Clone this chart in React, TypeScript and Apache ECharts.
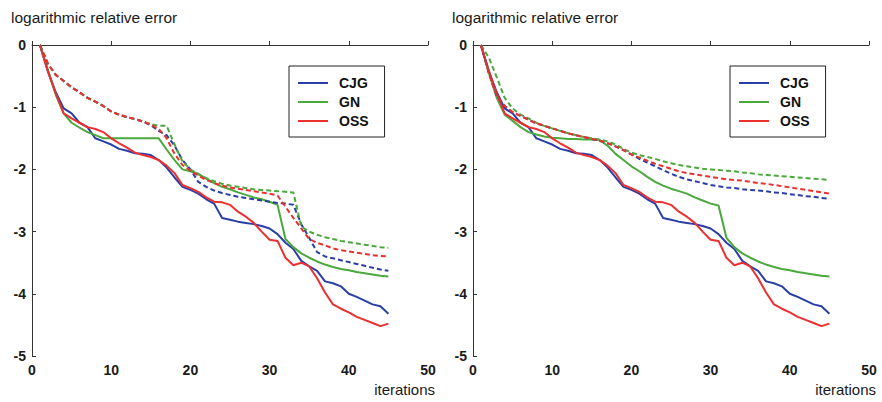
import React, { useEffect, useRef } from "react";
import * as echarts from "echarts";

// iteration index shared by every curve
const iterations = [
  1, 2, 3, 4, 5, 6, 7, 8, 9, 10, 11, 12, 13, 14, 15, 16, 17, 18, 19, 20, 21, 22, 23,
  24, 25, 26, 27, 28, 29, 30, 31, 32, 33, 34, 35, 36, 37, 38, 39, 40, 41, 42, 43, 44, 45,
];

// solid curves (CJG and OSS solid are identical in both panels)
const cjgSolid = [
  0, -0.42, -0.76, -1.02, -1.1, -1.25, -1.32, -1.5, -1.55, -1.6, -1.67, -1.7, -1.74, -1.75,
  -1.77, -1.85, -1.97, -2.13, -2.28, -2.33, -2.39, -2.48, -2.55, -2.78, -2.81, -2.84, -2.86,
  -2.88, -2.91, -2.95, -3.04, -3.18, -3.28, -3.47, -3.56, -3.63, -3.8, -3.83, -3.88, -4.0,
  -4.05, -4.11, -4.17, -4.2, -4.32,
];
const ossSolid = [
  0, -0.42, -0.78, -1.1, -1.18, -1.25, -1.32, -1.35, -1.4, -1.5, -1.58, -1.65, -1.73, -1.77,
  -1.8, -1.85, -1.94, -2.06, -2.25, -2.3, -2.36, -2.45, -2.52, -2.53, -2.57, -2.68, -2.76,
  -2.86, -3.0, -3.13, -3.15, -3.42, -3.54, -3.5, -3.56, -3.75, -3.98, -4.17, -4.24, -4.3,
  -4.37, -4.42, -4.47, -4.52, -4.48,
];
const gnSolidLeft = [
  0, -0.4, -0.8, -1.1, -1.25, -1.33, -1.4, -1.45, -1.5, -1.5, -1.5, -1.5, -1.5, -1.5, -1.5,
  -1.5, -1.68, -1.85, -2.0, -2.03, -2.07, -2.15, -2.22, -2.28, -2.32, -2.37, -2.41, -2.45,
  -2.48, -2.52, -2.57, -3.12, -3.25, -3.35, -3.42, -3.48, -3.53, -3.57, -3.6, -3.62, -3.65,
  -3.67, -3.69, -3.71, -3.72,
];
const gnSolidRight = [
  0, -0.45, -0.85, -1.12, -1.22, -1.32, -1.4, -1.44, -1.47, -1.49, -1.5, -1.51, -1.51, -1.52,
  -1.52, -1.53, -1.62, -1.75, -1.85, -1.95, -2.03, -2.12, -2.2, -2.26, -2.31, -2.35, -2.39,
  -2.45, -2.5, -2.55, -2.58, -3.1, -3.25, -3.35, -3.42, -3.48, -3.53, -3.57, -3.6, -3.62,
  -3.65, -3.67, -3.69, -3.71, -3.72,
];

// dashed curves, left panel
const cjgDashLeft = [
  0, -0.3, -0.48, -0.58, -0.68, -0.76, -0.85, -0.91, -0.98, -1.07, -1.12, -1.16, -1.19,
  -1.23, -1.29, -1.38, -1.45, -1.62, -1.85, -2.0, -2.2, -2.28, -2.34, -2.38, -2.41, -2.44,
  -2.46, -2.48, -2.5, -2.52, -2.54, -2.55, -2.57, -2.88, -3.1, -3.33, -3.4, -3.43, -3.46,
  -3.49, -3.52, -3.55, -3.58, -3.61, -3.63,
];
const gnDashLeft = [
  0, -0.3, -0.48, -0.58, -0.68, -0.76, -0.85, -0.91, -0.98, -1.07, -1.12, -1.16, -1.19,
  -1.23, -1.27, -1.3, -1.3, -1.6, -1.87, -2.0, -2.08, -2.14, -2.19, -2.23, -2.26, -2.28,
  -2.3, -2.32, -2.33, -2.34, -2.35, -2.36, -2.37, -2.92, -3.0, -3.05, -3.09, -3.12, -3.15,
  -3.17, -3.19, -3.21, -3.23, -3.25, -3.26,
];
const ossDashLeft = [
  0, -0.3, -0.48, -0.58, -0.68, -0.76, -0.85, -0.91, -0.98, -1.07, -1.12, -1.16, -1.19,
  -1.23, -1.28, -1.35, -1.5, -1.75, -1.93, -2.02, -2.1, -2.17, -2.22, -2.26, -2.29, -2.31,
  -2.33, -2.35, -2.37, -2.39, -2.42, -2.6, -2.78, -2.95, -3.12, -3.18, -3.22, -3.27, -3.3,
  -3.32, -3.34, -3.36, -3.38, -3.39, -3.4,
];

// dashed curves, right panel
const cjgDashRight = [
  0, -0.45, -0.82, -0.98, -1.08, -1.14, -1.2, -1.26, -1.3, -1.34, -1.38, -1.42, -1.45,
  -1.48, -1.51, -1.54, -1.58, -1.63, -1.69, -1.76, -1.83, -1.89, -1.95, -2.01, -2.07,
  -2.12, -2.16, -2.19, -2.22, -2.25, -2.27, -2.29, -2.3, -2.32, -2.33, -2.34, -2.35, -2.37,
  -2.38, -2.4, -2.41, -2.43, -2.44, -2.46, -2.47,
];
const gnDashRight = [
  0, -0.2, -0.52, -0.85, -1.02, -1.12, -1.18, -1.25, -1.3, -1.34, -1.38, -1.42, -1.45,
  -1.48, -1.5, -1.52, -1.55, -1.6, -1.67, -1.73, -1.77, -1.8, -1.83, -1.87, -1.9, -1.93,
  -1.95, -1.97, -1.99, -2.0, -2.01, -2.02, -2.03, -2.05, -2.06, -2.08, -2.09, -2.1, -2.11,
  -2.12, -2.13, -2.14, -2.15, -2.16, -2.17,
];
const ossDashRight = [
  0, -0.45, -0.82, -0.98, -1.08, -1.14, -1.2, -1.26, -1.3, -1.34, -1.38, -1.42, -1.45,
  -1.48, -1.51, -1.54, -1.58, -1.63, -1.69, -1.76, -1.81, -1.86, -1.91, -1.95, -1.99,
  -2.03, -2.06, -2.08, -2.1, -2.12, -2.14, -2.16, -2.17, -2.18, -2.2, -2.22, -2.23, -2.25,
  -2.27, -2.29, -2.31, -2.33, -2.35, -2.37, -2.39,
];

const methods = ["CJG", "GN", "OSS"];
const xTicks = [0, 10, 20, 30, 40, 50];
const yTicks = [0, -1, -2, -3, -4, -5];

const COLORS: Record<string, string> = {
  CJG: "#2a3fa6",
  GN: "#4aa83c",
  OSS: "#ec2f2f",
};
const FONT = "'Liberation Sans', Arial, Helvetica, sans-serif";

const pairs = (vals: number[]) => iterations.map((it, i) => [it, vals[i]]);

function curve(name: string, method: string, vals: number[], panel: number, dashed: boolean) {
  return {
    name,
    type: "line",
    xAxisIndex: panel,
    yAxisIndex: panel,
    data: pairs(vals),
    symbol: "none",
    showSymbol: false,
    silent: true,
    color: COLORS[method],
    lineStyle: {
      color: COLORS[method],
      width: 2,
      type: dashed ? [5, 3] : "solid",
    },
  };
}

function xAxis(panel: number) {
  return {
    type: "value",
    gridIndex: panel,
    min: xTicks[0],
    max: xTicks[xTicks.length - 1],
    interval: 10,
    axisLine: { show: true, lineStyle: { color: "#333", width: 1 } },
    axisTick: { show: true, inside: true, length: 4, lineStyle: { color: "#333" } },
    axisLabel: {
      margin: 7,
      color: "#1a1a1a",
      fontSize: 14,
      fontWeight: "bold",
      fontFamily: FONT,
    },
    splitLine: { show: false },
  };
}

function yAxis(panel: number) {
  return {
    type: "value",
    gridIndex: panel,
    min: yTicks[yTicks.length - 1],
    max: yTicks[0],
    interval: 1,
    axisLine: { show: true, lineStyle: { color: "#333", width: 1 } },
    axisTick: { show: true, inside: true, length: 4, lineStyle: { color: "#333" } },
    axisLabel: {
      margin: 6,
      color: "#1a1a1a",
      fontSize: 14,
      fontWeight: "bold",
      fontFamily: FONT,
    },
    splitLine: { show: false },
  };
}

function legend(left: number) {
  return {
    left,
    top: 66,
    orient: "vertical",
    icon: "rect",
    itemWidth: 30,
    itemHeight: 2,
    itemGap: 5,
    borderColor: "#222",
    borderWidth: 1,
    padding: [10, 16, 9, 9],
    selectedMode: false,
    data: methods,
    textStyle: {
      color: "#111",
      fontSize: 14,
      fontWeight: "bold",
      fontFamily: FONT,
      padding: [0, 0, 0, 6],
    },
  };
}

function panelTexts(offset: number) {
  return [
    {
      type: "text",
      left: offset + 11,
      top: 9,
      style: {
        text: "logarithmic relative error",
        fill: "#1a1a1a",
        font: `15.5px ${FONT}`,
      },
    },
    {
      type: "text",
      right: 882 - (offset + 435),
      top: 382,
      style: {
        text: "iterations",
        fill: "#1a1a1a",
        font: `15px ${FONT}`,
      },
    },
  ];
}

export default function App() {
  const ref = useRef<HTMLDivElement>(null);

  useEffect(() => {
    if (!ref.current) return;
    const chart = echarts.init(ref.current, undefined, { renderer: "svg" });

    const series = [
      curve("CJG", "CJG", cjgSolid, 0, false),
      curve("GN", "GN", gnSolidLeft, 0, false),
      curve("OSS", "OSS", ossSolid, 0, false),
      curve("CJG dashed", "CJG", cjgDashLeft, 0, true),
      curve("GN dashed", "GN", gnDashLeft, 0, true),
      curve("OSS dashed", "OSS", ossDashLeft, 0, true),
      curve("CJG", "CJG", cjgSolid, 1, false),
      curve("GN", "GN", gnSolidRight, 1, false),
      curve("OSS", "OSS", ossSolid, 1, false),
      curve("CJG dashed", "CJG", cjgDashRight, 1, true),
      curve("GN dashed", "GN", gnDashRight, 1, true),
      curve("OSS dashed", "OSS", ossDashRight, 1, true),
    ];

    chart.setOption({
      animation: false,
      backgroundColor: "#ffffff",
      grid: [
        { left: 32, top: 45, width: 396, height: 311 },
        { left: 473, top: 45, width: 396, height: 311 },
      ],
      xAxis: [xAxis(0), xAxis(1)],
      yAxis: [yAxis(0), yAxis(1)],
      legend: [legend(289), legend(730)],
      graphic: [...panelTexts(0), ...panelTexts(441)],
      series,
    });

    return () => chart.dispose();
  }, []);

  return (
    <div
      ref={ref}
      style={{ position: "fixed", left: 0, top: 0, width: 882, height: 402, background: "#fff" }}
    />
  );
}
